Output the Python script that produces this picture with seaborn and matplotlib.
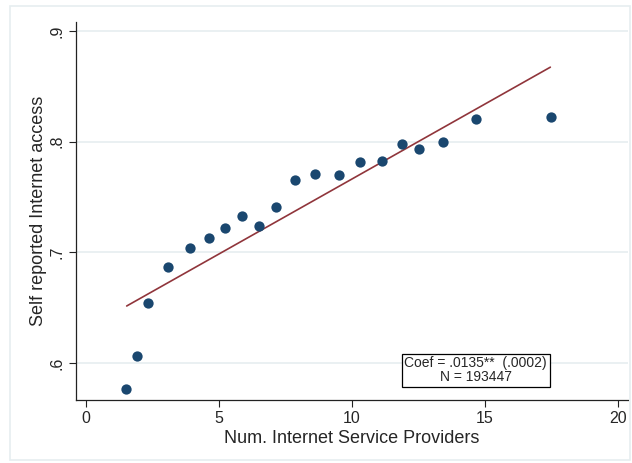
import matplotlib
matplotlib.use("Agg")
import matplotlib.pyplot as plt
import numpy as np
import pandas as pd
import seaborn as sns

# binned means (binscatter)
isp_bins = [1.50, 1.92, 2.33, 3.08, 3.91, 4.62, 5.23, 5.86, 6.50, 7.14,
            7.86, 8.61, 9.51, 10.30, 11.13, 11.88, 12.52, 13.42, 14.66, 17.48]
access_means = [.5766, .6063, .6541, .6865, .7036, .7126, .7216, .7333, .7243, .7414,
                .7658, .7712, .7703, .7820, .7829, .7982, .7937, .8000, .8207, .8225]

# linear fit endpoints
fit_x = [1.53, 17.46]
fit_y = [.6516, .8673]

coef_text = "Coef = .0135**  (.0002)\nN = 193447"

sns.set_style("white")
plt.rcParams['font.family'] = ['Liberation Sans', 'DejaVu Sans']

fig = plt.figure(figsize=(6.32, 4.63), dpi=100)
ax = fig.add_axes([76 / 632, 63 / 463, (628 - 76) / 632, (400 - 22) / 463])

df = pd.DataFrame({"isp": isp_bins, "access": access_means})
fit = pd.DataFrame({"isp": fit_x, "access": fit_y})

ax.grid(axis='y', color='#e6eef0', linewidth=1.2)
ax.grid(axis='x', visible=False)
sns.lineplot(data=fit, x="isp", y="access", color='#90353b', linewidth=1.2, ax=ax)
sns.scatterplot(data=df, x="isp", y="access", color='#1a476f', s=55,
                edgecolor='#1a476f', linewidth=0, ax=ax, zorder=3)

ax.set_xlim(-0.376, 20.38)
ax.set_ylim(.5667, .9081)
ax.set_xticks([0, 5, 10, 15, 20])
ax.set_yticks([.6, .7, .8, .9])
ax.set_yticklabels([".6", ".7", ".8", ".9"], rotation=90, va='center')
ax.tick_params(axis='both', direction='out', length=5, width=0.8, color='#222222',
               labelsize=11.5, pad=3, left=True, bottom=True)

for s in ['top', 'right']:
    ax.spines[s].set_visible(False)
for s in ['left', 'bottom']:
    ax.spines[s].set_color('#222222')
    ax.spines[s].set_linewidth(0.9)

ax.set_xlabel("Num. Internet Service Providers", fontsize=13, labelpad=3)
ax.set_ylabel("Self reported Internet access", fontsize=13, labelpad=2)

ax.text(14.65, .5937, coef_text, ha='center', va='center', fontsize=10,
        linespacing=0.95,
        bbox=dict(boxstyle='square,pad=0.2', facecolor='white', edgecolor='black', linewidth=0.9))

# outer frame like the graph region border
fig.patches.append(plt.Rectangle((10 / 632, 3 / 463), 620 / 632, 454 / 463,
                                 transform=fig.transFigure, fill=False,
                                 edgecolor='#e6eef0', linewidth=1.2))

fig.savefig("out.png", dpi=100)
